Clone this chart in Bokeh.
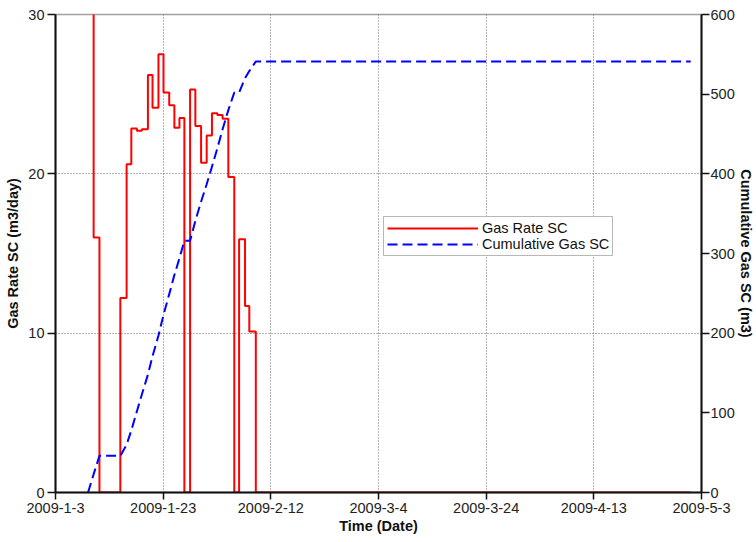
import pandas as pd
from bokeh.plotting import figure
from bokeh.models import Range1d, LinearAxis, FixedTicker, Legend, LegendItem
from bokeh.embed import file_html
from bokeh.resources import INLINE

# ---------------- data ----------------
dates = [
    "2009-01-09 01:00", "2009-01-10 02:00", "2009-01-11 04:00", "2009-01-15 01:00",
    "2009-01-16 05:00", "2009-01-17 02:00", "2009-01-18 03:00", "2009-01-19 01:00",
    "2009-01-20 04:00", "2009-01-21 00:30", "2009-01-22 03:00", "2009-01-23 01:30",
    "2009-01-24 03:00", "2009-01-25 02:00", "2009-01-26 00:30", "2009-01-26 22:30",
    "2009-01-28 00:00", "2009-01-28 23:30", "2009-01-30 01:00", "2009-01-31 02:00",
    "2009-02-01 01:30", "2009-02-02 01:30", "2009-02-03 01:00", "2009-02-04 02:30",
    "2009-02-05 05:00", "2009-02-06 02:30", "2009-02-07 05:00", "2009-02-08 00:00",
    "2009-02-09 05:00", "2009-05-01 00:00",
]
# gas rate (m3/day), reported for dates[1:] (value over the preceding interval)
gas_rate = [50.0, 16.0, 0.0, 12.2, 20.6, 22.85, 22.7, 22.8, 26.2, 24.15, 27.5,
            25.1, 24.3, 22.9, 23.5, 0.0, 25.3, 23.0, 20.7, 22.4, 23.8, 23.7,
            23.45, 19.8, 0.0, 15.9, 11.7, 10.1, 0.0]
# cumulative gas (m3) at every entry of dates
cum_gas = [0, 23, 46, 46, 60, 78, 102, 123, 148, 171, 197, 223, 249, 273, 294,
           316, 316, 341, 365, 387, 409, 432, 456, 480, 502, 502, 520, 529, 541, 541]

tick_dates = ["2009-01-03", "2009-01-23", "2009-02-12", "2009-03-04",
              "2009-03-24", "2009-04-13", "2009-05-03"]
tick_labels = ["2009-1-3", "2009-1-23", "2009-2-12", "2009-3-4",
               "2009-3-24", "2009-4-13", "2009-5-3"]
rate_ticks = [0, 10, 20, 30]
cum_ticks = [0, 100, 200, 300, 400, 500, 600]

# ---------------- figure ----------------
FONT = "Liberation Sans"
t_all = pd.to_datetime(dates)
t_ticks = pd.to_datetime(tick_dates)
tick_ms = [int(t.value // 10**6) for t in t_ticks]

p = figure(width=756, height=542, x_axis_type="datetime",
           x_range=Range1d(t_ticks[0], t_ticks[-1]), y_range=Range1d(0, 30),
           output_backend="svg", toolbar_location=None,
           min_border_left=55, min_border_right=53, min_border_top=14,
           min_border_bottom=50)
p.background_fill_color = "white"
p.border_fill_color = "white"
p.outline_line_color = "#a0a0a0"
p.outline_line_width = 1.5

p.extra_y_ranges = {"cum": Range1d(0, 600)}

r_rate = p.step(list(t_all[1:]), gas_rate, mode="before", line_color="#ff0000",
                line_width=2)
r_cum = p.line(list(t_all), cum_gas, y_range_name="cum", line_color="#0000ff",
               line_width=2, line_dash="10 5")

# axes
xa = p.xaxis[0]
xa.ticker = FixedTicker(ticks=tick_ms)
xa.major_label_overrides = {ms: lab for ms, lab in zip(tick_ms, tick_labels)}
xa.axis_label = "Time (Date)"
xa.axis_label_standoff = 2

ya = p.yaxis[0]
ya.ticker = FixedTicker(ticks=rate_ticks)
ya.axis_label = "Gas Rate SC (m3/day)"
ya.axis_label_standoff = 4

ra = LinearAxis(y_range_name="cum", ticker=FixedTicker(ticks=cum_ticks))
ra.axis_label = "Cumulative Gas SC (m3)"
p.add_layout(ra, "right")

for ax in (xa, ya, ra):
    ax.axis_line_color = "#111111"
    ax.axis_line_width = 2
    ax.major_tick_line_color = "#111111"
    ax.major_tick_line_width = 1.5
    ax.major_tick_out = 8
    ax.major_tick_in = 0
    ax.minor_tick_out = 0
    ax.minor_tick_in = 0
    ax.major_label_standoff = 3
    ax.major_label_text_font = FONT
    ax.major_label_text_font_size = "14.5px"
    ax.major_label_text_color = "#222222"
    ax.axis_label_text_font = FONT
    ax.axis_label_text_font_size = "14.5px"
    ax.axis_label_text_font_style = "bold"
    ax.axis_label_text_color = "#111111"
xa.major_tick_out = 7
ra.major_label_standoff = 1
ra.axis_label_standoff = 0

# grid
p.xgrid.ticker = FixedTicker(ticks=tick_ms)
p.ygrid.ticker = FixedTicker(ticks=rate_ticks)
for g in (p.xgrid, p.ygrid):
    g.grid_line_color = "#666666"
    g.grid_line_dash = "1 2"
    g.grid_line_width = 1

legend = Legend(items=[LegendItem(label="Gas Rate SC", renderers=[r_rate]),
                       LegendItem(label="Cumulative Gas SC", renderers=[r_cum])],
                location=(328, 236))
legend.glyph_width = 91
legend.glyph_height = 16
legend.label_height = 16
legend.label_standoff = 4
legend.padding = 3
legend.spacing = 0
legend.margin = 0
legend.border_line_color = "#707070"
legend.border_line_width = 1
legend.background_fill_color = "white"
legend.background_fill_alpha = 1
legend.label_text_font = FONT
legend.label_text_font_size = "14.5px"
legend.label_text_color = "#111111"
p.add_layout(legend)

open("out.html", "w").write(file_html(p, INLINE))
